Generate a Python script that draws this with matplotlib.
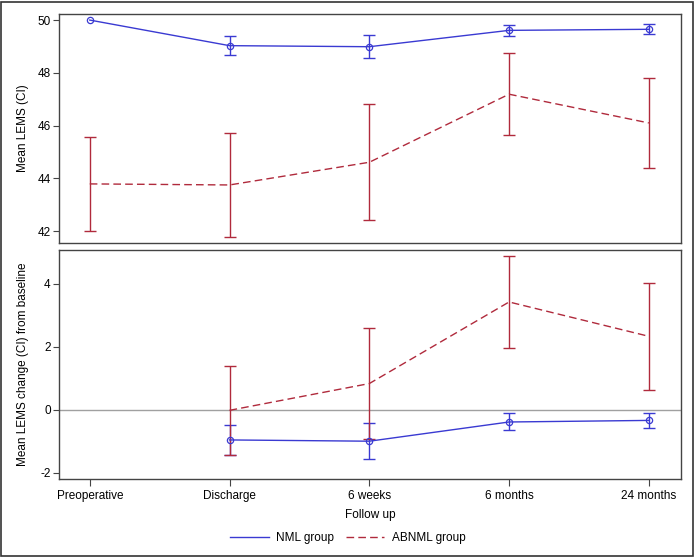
import numpy as np
import matplotlib.pyplot as plt
from matplotlib.patches import Rectangle
from matplotlib.lines import Line2D

plt.rcParams['font.family'] = ['Liberation Sans', 'DejaVu Sans']
plt.rcParams['axes.unicode_minus'] = False

# follow-up time points
timepoints = ["Preoperative", "Discharge", "6 weeks", "6 months", "24 months"]

# mean LEMS with CI (top panel)
nml_mean = [50.0, 49.03, 48.99, 49.61, 49.65]
nml_lo = [np.nan, 48.67, 48.55, 49.41, 49.47]
nml_hi = [np.nan, 49.40, 49.44, 49.82, 49.84]
abn_mean = [43.79, 43.75, 44.61, 47.19, 46.10]
abn_lo = [42.02, 41.77, 42.41, 45.66, 44.41]
abn_hi = [45.56, 45.73, 46.81, 48.74, 47.81]

# mean change from baseline (bottom panel), no preoperative value
chg_nml_mean = [-0.96, -1.00, -0.39, -0.34]
chg_nml_lo = [-1.43, -1.56, -0.63, -0.58]
chg_nml_hi = [-0.50, -0.43, -0.12, -0.11]
chg_abn_mean = [-0.02, 0.83, 3.42, 2.33]
chg_abn_lo = [-1.43, -0.94, 1.95, 0.63]
chg_abn_hi = [1.40, 2.60, 4.89, 4.01]

BLUE = "#3a3ad2"
RED = "#b02a3c"
DASH = (5.5, 3)

fig = plt.figure(figsize=(6.95, 5.57), dpi=100)
W, H = 695, 557
ax1 = fig.add_axes([59 / W, 1 - 243 / H, (681 - 59) / W, (243 - 14) / H])
ax2 = fig.add_axes([59 / W, 1 - 479 / H, (681 - 59) / W, (479 - 250) / H])

fig.patches.append(Rectangle((1 / W, 1 / H), 692 / W, 554 / H, transform=fig.transFigure,
                             fill=False, edgecolor="#333333", linewidth=1.2))


def draw(ax, x, mean, lo, hi, color, dashed, marker):
    mean = np.array(mean)
    lo = np.array(lo)
    hi = np.array(hi)
    line, = ax.plot(x, mean, color=color, linewidth=1.0,
                    marker=marker, markersize=4.5, markerfacecolor="none",
                    markeredgecolor=color, markeredgewidth=0.9, zorder=3)
    if dashed:
        line.set_dashes(DASH)
    ok = ~np.isnan(lo)
    ax.errorbar(np.array(x)[ok], mean[ok],
                yerr=[mean[ok] - lo[ok], hi[ok] - mean[ok]],
                fmt="none", ecolor=color, elinewidth=1.0, capsize=4.5,
                capthick=1.0, zorder=2)


x_all = np.arange(len(timepoints))
x_chg = x_all[1:]

draw(ax1, x_all, nml_mean, nml_lo, nml_hi, BLUE, False, "o")
draw(ax1, x_all, abn_mean, abn_lo, abn_hi, RED, True, None)
ax2.axhline(0, color="#a0a0a0", linewidth=1.0, zorder=1)
draw(ax2, x_chg, chg_nml_mean, chg_nml_lo, chg_nml_hi, BLUE, False, "o")
draw(ax2, x_chg, chg_abn_mean, chg_abn_lo, chg_abn_hi, RED, True, None)

for ax in (ax1, ax2):
    ax.set_xlim(-0.22, 4.23)
    for s in ax.spines.values():
        s.set_color("#444444")
        s.set_linewidth(1.0)
    ax.tick_params(axis="y", labelsize=8.5, length=4, color="#444444", pad=2)

ax1.set_ylim(41.55, 50.23)
ax1.set_yticks([42, 44, 46, 48, 50])
ax1.set_xticks([])
ax1.set_ylabel("Mean LEMS (CI)", fontsize=8.5)

ax2.set_ylim(-2.2, 5.07)
ax2.set_yticks([-2, 0, 2, 4])
ax2.set_xticks(x_all)
ax2.set_xticklabels(timepoints)
ax2.tick_params(axis="x", labelsize=8.5, length=5, color="#444444", pad=3)
ax2.set_ylabel("Mean LEMS change (CI) from baseline", fontsize=8.5)
ax2.set_xlabel("Follow up", fontsize=8.5, labelpad=5)

ax1.yaxis.set_label_coords(-0.048, 0.5)
ax2.yaxis.set_label_coords(-0.048, 0.5)

handles = [Line2D([], [], color=BLUE, linewidth=1.0),
           Line2D([], [], color=RED, linewidth=1.0, dashes=DASH)]
fig.legend(handles, ["NML group", "ABNML group"], loc="center",
           bbox_to_anchor=(0.5, 1 - 538 / H), ncol=2, frameon=False,
           fontsize=8.5, handlelength=3.3, handletextpad=0.6, columnspacing=1.0)

fig.savefig("out.png", dpi=100)
